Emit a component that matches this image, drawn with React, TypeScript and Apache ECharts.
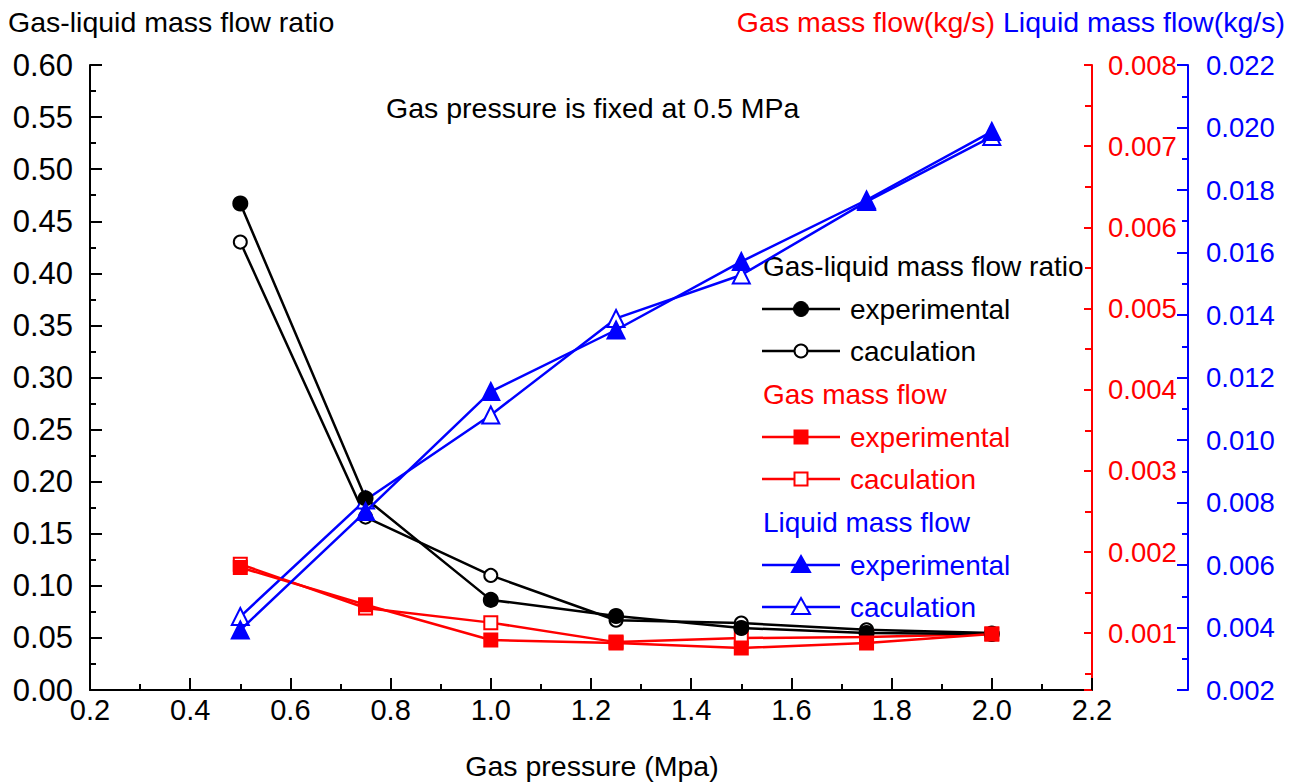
import React, { useEffect, useRef } from "react";
import * as echarts from "echarts";

// Gas pressure (MPa) at each measuring point
const pressure = [0.5, 0.75, 1.0, 1.25, 1.5, 1.75, 2.0];

// Gas-liquid mass flow ratio
const ratioExperimental = [0.467, 0.184, 0.0865, 0.071, 0.0595, 0.0547, 0.0538];
const ratioCalculation = [0.43, 0.166, 0.11, 0.067, 0.0643, 0.0578, 0.0547];

// Gas mass flow (kg/s)
const gasFlowExperimental = [0.00181, 0.00135, 0.000916, 0.000879, 0.000817, 0.000879, 0.00099];
const gasFlowCalculation = [0.00185, 0.00131, 0.00113, 0.00089, 0.00094, 0.000953, 0.00099];

// Liquid mass flow (kg/s)
const liquidFlowExperimental = [0.00392, 0.00771, 0.01155, 0.01352, 0.01571, 0.01768, 0.01987];
const liquidFlowCalculation = [0.00435, 0.00808, 0.0108, 0.01389, 0.01528, 0.01763, 0.01971];

const BLACK = "#000000";
const RED = "#ff0000";
const BLUE = "#0000ff";
const FONT = "'Liberation Sans', Arial, sans-serif";

const pairs = (ys: number[]) => pressure.map((x, i) => [x, ys[i]]);

type Marker = "circle" | "rect" | "triangle";

// One legend row: short line, marker in the middle, label to the right
function legendRow(y: number, color: string, marker: Marker, filled: boolean, label: string) {
  const cx = 801;
  const fill = filled ? color : "#ffffff";
  let shape: any;
  if (marker === "circle") {
    shape = { type: "circle", shape: { cx, cy: y, r: filled ? 7.5 : 6.5 }, style: { fill, stroke: color, lineWidth: filled ? 1 : 2 } };
  } else if (marker === "rect") {
    shape = { type: "rect", shape: { x: cx - 6.5, y: y - 6.5, width: 13, height: 13 }, style: { fill, stroke: color, lineWidth: 2 } };
  } else {
    shape = {
      type: "polygon",
      shape: { points: [[cx, y - 9], [cx + 9, y + 7], [cx - 9, y + 7]] },
      style: { fill, stroke: color, lineWidth: 2 },
    };
  }
  return [
    { type: "line", shape: { x1: 762, y1: y, x2: 840, y2: y }, style: { stroke: color, lineWidth: 2.5 } },
    shape,
    {
      type: "text",
      x: 850,
      y,
      style: { text: label, fill: color, font: `28px ${FONT}`, textVerticalAlign: "middle", verticalAlign: "middle" },
    },
  ];
}

function heading(x: number, y: number, text: string, color: string, align: string, size = 28.5) {
  return {
    type: "text",
    x,
    y,
    style: { text, fill: color, font: `${size}px ${FONT}`, align, textAlign: align, verticalAlign: "middle", textVerticalAlign: "middle" },
  };
}

export default function App() {
  const ref = useRef<HTMLDivElement>(null);

  useEffect(() => {
    if (!ref.current) return;
    const chart = echarts.init(ref.current, null, { renderer: "svg" });

    const lineSeries = (
      name: string,
      data: number[],
      yAxisIndex: number,
      color: string,
      symbol: string,
      symbolSize: number,
      z: number
    ) => ({
      name,
      type: "line",
      data: pairs(data),
      yAxisIndex,
      symbol,
      symbolSize,
      z,
      lineStyle: { color, width: 2.5 },
      itemStyle: { color, borderColor: color, borderWidth: 2 },
      emphasis: { disabled: true },
    });

    const option: any = {
      animation: false,
      textStyle: { fontFamily: FONT },
      grid: { left: 90, right: 210, top: 65, bottom: 92, containLabel: false, outerBoundsMode: "none" },
      xAxis: {
        type: "value",
        min: 0.2,
        max: 2.2,
        interval: 0.2,
        axisLine: { lineStyle: { color: BLACK, width: 2 } },
        axisTick: { inside: true, length: 12, lineStyle: { color: BLACK, width: 2 } },
        minorTick: { show: true, splitNumber: 2, length: 6, lineStyle: { color: BLACK, width: 2 } },
        splitLine: { show: false },
        axisLabel: { color: BLACK, fontSize: 29, margin: 5, formatter: (v: number) => v.toFixed(1) },
      },
      yAxis: [
        {
          type: "value",
          position: "left",
          min: 0,
          max: 0.6,
          interval: 0.05,
          axisLine: { show: true, lineStyle: { color: BLACK, width: 2 } },
          axisTick: { show: true, inside: true, length: 12, lineStyle: { color: BLACK, width: 2 } },
          minorTick: { show: true, splitNumber: 2, length: 6, lineStyle: { color: BLACK, width: 2 } },
          splitLine: { show: false },
          axisLabel: { color: BLACK, fontSize: 31, margin: 17, formatter: (v: number) => v.toFixed(2) },
        },
        {
          type: "value",
          position: "right",
          min: 0.0003,
          max: 0.008,
          splitNumber: 8,
          axisLine: { show: true, lineStyle: { color: RED, width: 2 } },
          axisTick: { show: true, inside: true, length: 8, lineStyle: { color: RED, width: 2 } },
          minorTick: { show: true, splitNumber: 2, length: 7, lineStyle: { color: RED, width: 2 } },
          splitLine: { show: false },
          axisLabel: { color: RED, fontSize: 27.5, margin: 16, showMinLabel: false, formatter: (v: number) => v.toFixed(3) },
        },
        {
          type: "value",
          position: "right",
          offset: 96,
          min: 0.002,
          max: 0.022,
          interval: 0.002,
          axisLine: { show: true, lineStyle: { color: BLUE, width: 2 } },
          axisTick: { show: true, inside: true, length: 11, lineStyle: { color: BLUE, width: 2 } },
          minorTick: { show: true, splitNumber: 2, length: 6, lineStyle: { color: BLUE, width: 2 } },
          splitLine: { show: false },
          axisLabel: { color: BLUE, fontSize: 27.5, margin: 18, formatter: (v: number) => v.toFixed(3) },
        },
      ],
      series: [
        lineSeries("Gas-liquid mass flow ratio caculation", ratioCalculation, 0, BLACK, "emptyCircle", 13, 3),
        lineSeries("Gas-liquid mass flow ratio experimental", ratioExperimental, 0, BLACK, "circle", 14, 4),
        lineSeries("Gas mass flow caculation", gasFlowCalculation, 1, RED, "emptyRect", 13, 3),
        lineSeries("Gas mass flow experimental", gasFlowExperimental, 1, RED, "rect", 13, 4),
        lineSeries("Liquid mass flow caculation", liquidFlowCalculation, 2, BLUE, "emptyTriangle", 17, 3),
        lineSeries("Liquid mass flow experimental", liquidFlowExperimental, 2, BLUE, "triangle", 17, 4),
      ],
      graphic: [
        heading(8, 22, "Gas-liquid mass flow ratio", BLACK, "left"),
        heading(995, 22, "Gas mass flow(kg/s)", RED, "right"),
        heading(1003, 22, "Liquid mass flow(kg/s)", BLUE, "left"),
        heading(386, 108, "Gas pressure is fixed at 0.5 MPa", BLACK, "left"),
        heading(592, 766, "Gas pressure (Mpa)", BLACK, "center"),
        heading(763, 266, "Gas-liquid mass flow ratio", BLACK, "left", 28),
        ...legendRow(309, BLACK, "circle", true, "experimental"),
        ...legendRow(351, BLACK, "circle", false, "caculation"),
        heading(763, 394, "Gas mass flow", RED, "left", 28),
        ...legendRow(437, RED, "rect", true, "experimental"),
        ...legendRow(479, RED, "rect", false, "caculation"),
        heading(763, 522, "Liquid mass flow", BLUE, "left", 28),
        ...legendRow(565, BLUE, "triangle", true, "experimental"),
        ...legendRow(607, BLUE, "triangle", false, "caculation"),
      ],
    };

    chart.setOption(option);
    return () => chart.dispose();
  }, []);

  return (
    <div
      ref={ref}
      style={{ position: "fixed", left: 0, top: 0, width: 1302, height: 782, background: "#ffffff" }}
    />
  );
}
